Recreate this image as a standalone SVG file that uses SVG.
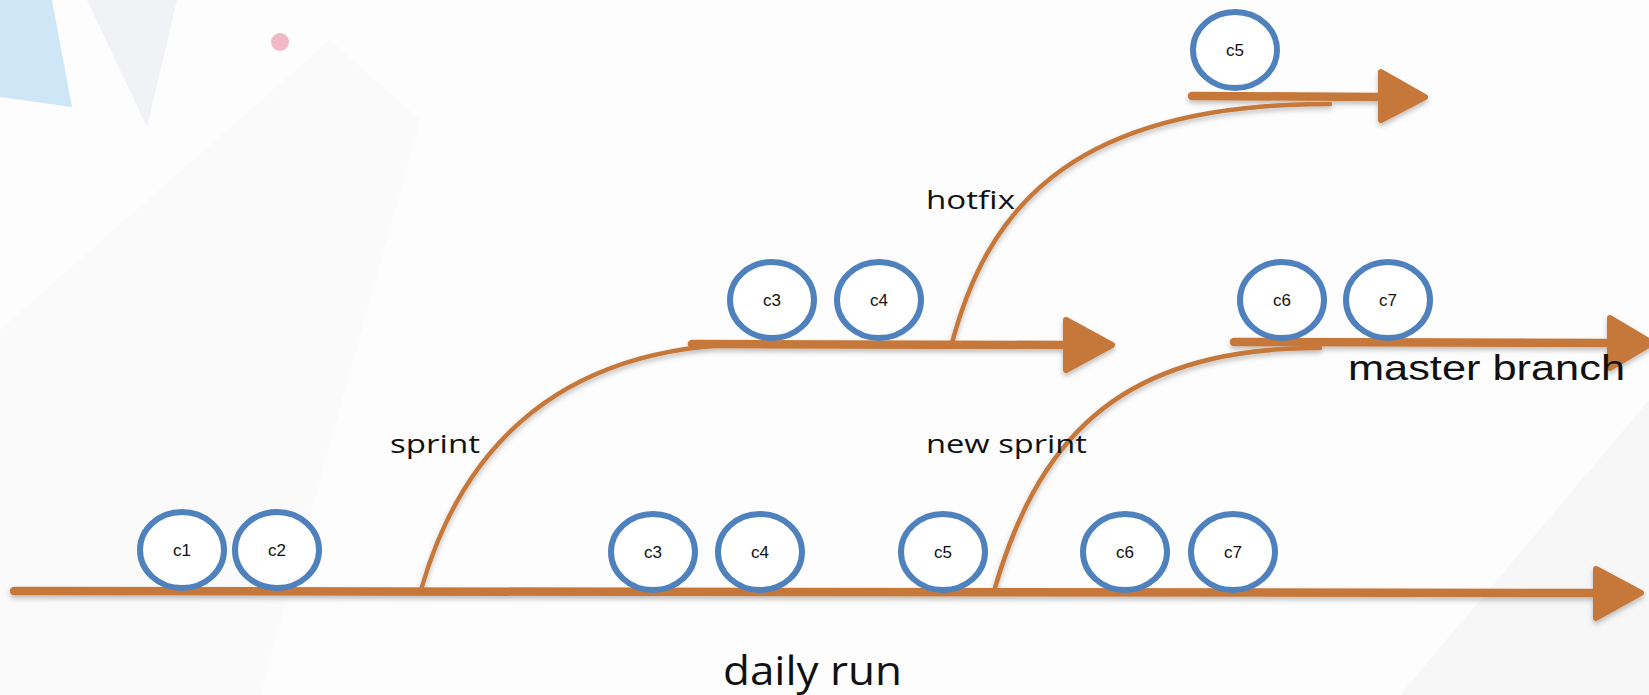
<svg xmlns="http://www.w3.org/2000/svg" width="1649" height="695" viewBox="0 0 1649 695">
<style>
.br{fill:none;stroke:#C6783A;stroke-width:8.5;stroke-linecap:round}
.cv{fill:none;stroke:#C6783A;stroke-width:4.5;stroke-linecap:round}
.hd{fill:#C6783A;stroke:#C6783A;stroke-width:6;stroke-linejoin:round}
.nd{fill:#fff;stroke:#4F81BD;stroke-width:6}
.nt{font-family:"Liberation Sans",Arial,sans-serif;font-size:17px;fill:#111;text-anchor:middle}
.lb{font-family:"Open Sans","DejaVu Sans",sans-serif;font-size:26px;fill:#111}
.big{font-size:40px}
</style>
<defs>
<filter id="sh" x="-5%" y="-50%" width="110%" height="200%">
<feDropShadow dx="0" dy="3" stdDeviation="2.5" flood-color="#000" flood-opacity="0.25"/>
</filter>
</defs>
<rect width="1649" height="695" fill="#fdfdfd"/>
<g id="background">
<polygon points="0,0 52,0 72,107 0,97" fill="#cfe6f7"/>
<polygon points="87,0 177,0 147,127" fill="#f1f2f6"/>
<polygon points="0,330 330,40 420,120 260,695 0,695" fill="#f7f7f8" opacity="0.5"/>
<polygon points="1400,695 1649,400 1649,695" fill="#f4f4f5" opacity="0.6"/>
<circle cx="280" cy="42" r="9" fill="#f2b8c8"/>
</g>
<g id="connectors" filter="url(#sh)">
<path class="br" d="M14,591 L1596,593"/>
<polygon class="hd" points="1596,569 1641,593 1596,618"/>
<path class="cv" d="M421,590 C455,470 540,343 760,344"/>
<path class="br" d="M692,344 L1066,345"/>
<polygon class="hd" points="1066,320 1112,345 1066,370"/>
<path class="cv" d="M952,343 C985,220 1060,103 1330,104"/>
<path class="br" d="M1192,96 L1381,97"/>
<polygon class="hd" points="1381,72 1425,97 1381,120"/>
<path class="cv" d="M994,591 C1035,450 1110,347 1320,348"/>
<path class="br" d="M1234,342 L1610,343"/>
<polygon class="hd" points="1610,318 1652,343 1610,368"/>
</g>
<g id="n-c1"><ellipse class="nd" cx="182" cy="550" rx="42" ry="38"/><text class="nt" x="182" y="556">c1</text></g>
<g id="n-c2"><ellipse class="nd" cx="277" cy="550" rx="42" ry="38"/><text class="nt" x="277" y="556">c2</text></g>
<g id="n-c3"><ellipse class="nd" cx="653" cy="552" rx="42" ry="38"/><text class="nt" x="653" y="558">c3</text></g>
<g id="n-c4"><ellipse class="nd" cx="760" cy="552" rx="42" ry="38"/><text class="nt" x="760" y="558">c4</text></g>
<g id="n-c5"><ellipse class="nd" cx="943" cy="552" rx="42" ry="38"/><text class="nt" x="943" y="558">c5</text></g>
<g id="n-c6"><ellipse class="nd" cx="1125" cy="552" rx="42" ry="38"/><text class="nt" x="1125" y="558">c6</text></g>
<g id="n-c7"><ellipse class="nd" cx="1233" cy="552" rx="42" ry="38"/><text class="nt" x="1233" y="558">c7</text></g>
<g id="n-s-c3"><ellipse class="nd" cx="772" cy="300" rx="42" ry="38"/><text class="nt" x="772" y="306">c3</text></g>
<g id="n-s-c4"><ellipse class="nd" cx="879" cy="300" rx="42" ry="38"/><text class="nt" x="879" y="306">c4</text></g>
<g id="n-h-c5"><ellipse class="nd" cx="1235" cy="50" rx="42" ry="38"/><text class="nt" x="1235" y="56">c5</text></g>
<g id="n-m-c6"><ellipse class="nd" cx="1282" cy="300" rx="42" ry="38"/><text class="nt" x="1282" y="306">c6</text></g>
<g id="n-m-c7"><ellipse class="nd" cx="1388" cy="300" rx="42" ry="38"/><text class="nt" x="1388" y="306">c7</text></g>
<g id="labels">
<text class="lb" x="390" y="453" textLength="90" lengthAdjust="spacingAndGlyphs">sprint</text>
<text class="lb" x="926" y="209" textLength="89" lengthAdjust="spacingAndGlyphs">hotfix</text>
<text class="lb" x="926" y="453" textLength="161" lengthAdjust="spacingAndGlyphs">new sprint</text>
<text class="lb big" x="723" y="685" textLength="179" lengthAdjust="spacingAndGlyphs">daily run</text>
<text x="1348" y="380" font-family="'Liberation Sans',Arial,sans-serif" font-size="35" fill="#111" textLength="277" lengthAdjust="spacingAndGlyphs">master branch</text>
</g>
</svg>
